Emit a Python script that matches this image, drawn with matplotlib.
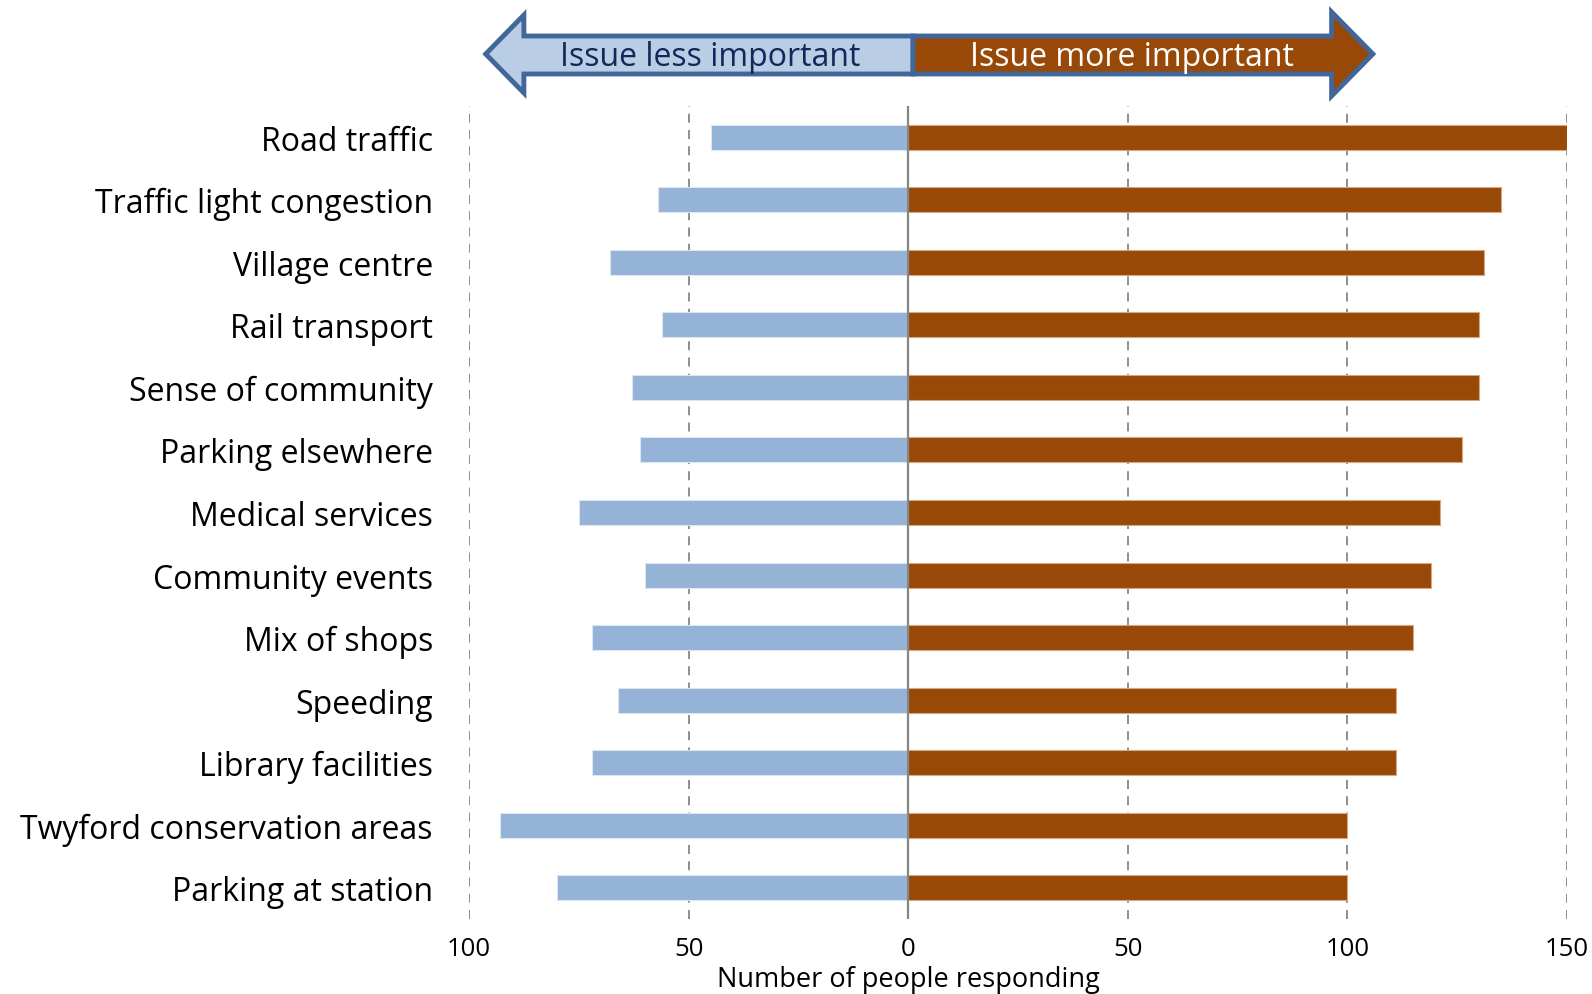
import matplotlib
matplotlib.use("Agg")
import matplotlib.pyplot as plt
import matplotlib.transforms as mtransforms
from matplotlib.patches import Polygon
import numpy as np

categories = [
    "Road traffic",
    "Traffic light congestion",
    "Village centre",
    "Rail transport",
    "Sense of community",
    "Parking elsewhere",
    "Medical services",
    "Community events",
    "Mix of shops",
    "Speeding",
    "Library facilities",
    "Twyford conservation areas",
    "Parking at station",
]
less_important = [45, 57, 68, 56, 63, 61, 75, 60, 72, 66, 72, 93, 80]
more_important = [150, 135, 131, 130, 130, 126, 121, 119, 115, 111, 111, 100, 100]
tick_values = [-100, -50, 0, 50, 100, 150]

light_blue = "#95b3d7"
brown = "#984807"
grid_grey = "#868686"
arrow_edge = "#41679a"

plt.rcParams["font.family"] = ["Open Sans", "DejaVu Sans"]

fig = plt.figure(figsize=(15.92, 9.95), dpi=100)
ax = fig.add_axes([0.2946, 0.0754, 0.6897, 0.8171])

y = np.arange(len(categories))
ax.barh(y, [-v for v in less_important], height=0.4, color=light_blue,
        edgecolor="#dce6f2", linewidth=0.8, zorder=3)
ax.barh(y, more_important, height=0.4, color=brown,
        edgecolor="#d9a77f", linewidth=0.8, zorder=3)

ax.set_xlim(-100, 150)
ax.set_ylim(len(categories) - 0.5, -0.5)

for t in tick_values:
    if t == 0:
        ax.axvline(0, color=grid_grey, lw=1.6, zorder=4)
    else:
        ax.axvline(t, color=grid_grey, lw=1.3, ls=(0, (5, 4)), zorder=1)

ax.set_yticks(y)
ax.set_yticklabels(categories, fontsize=23)
ax.set_xticks(tick_values)
ax.set_xticklabels([str(abs(t)) for t in tick_values], fontsize=18.5)
ax.tick_params(axis="y", length=0, pad=26)
ax.tick_params(axis="x", length=0, pad=12)
for s in ax.spines.values():
    s.set_visible(False)

ax.set_xlabel("Number of people responding", fontsize=19.5, labelpad=2)
ax.xaxis.set_label_coords(0.4, -0.056)

# direction arrow above the plot: x in data units, y in figure fraction
trans = mtransforms.blended_transform_factory(ax.transData, fig.transFigure)
def fy(px):
    return 1 - px / 995.0

left_pts = [(1.1, fy(37)), (-87.5, fy(37)), (-87.5, fy(16)), (-96.2, fy(55)),
            (-87.5, fy(94)), (-87.5, fy(75)), (1.1, fy(75))]
right_pts = [(1.1, fy(37)), (96.4, fy(37)), (96.4, fy(13)), (105.8, fy(55)),
             (96.4, fy(97)), (96.4, fy(75)), (1.1, fy(75))]
ax.add_patch(Polygon(left_pts, closed=True, transform=trans, clip_on=False,
                     facecolor="#b9cde5", edgecolor=arrow_edge, lw=3.5, joinstyle="miter"))
ax.add_patch(Polygon(right_pts, closed=True, transform=trans, clip_on=False,
                     facecolor=brown, edgecolor=arrow_edge, lw=3.5, joinstyle="miter"))
ax.text(-45, fy(58), "Issue less important", transform=trans, ha="center", va="center",
        fontsize=23, color="#10285a")
ax.text(51, fy(58), "Issue more important", transform=trans, ha="center", va="center",
        fontsize=23, color="white")

fig.savefig("out.png", dpi=100)
